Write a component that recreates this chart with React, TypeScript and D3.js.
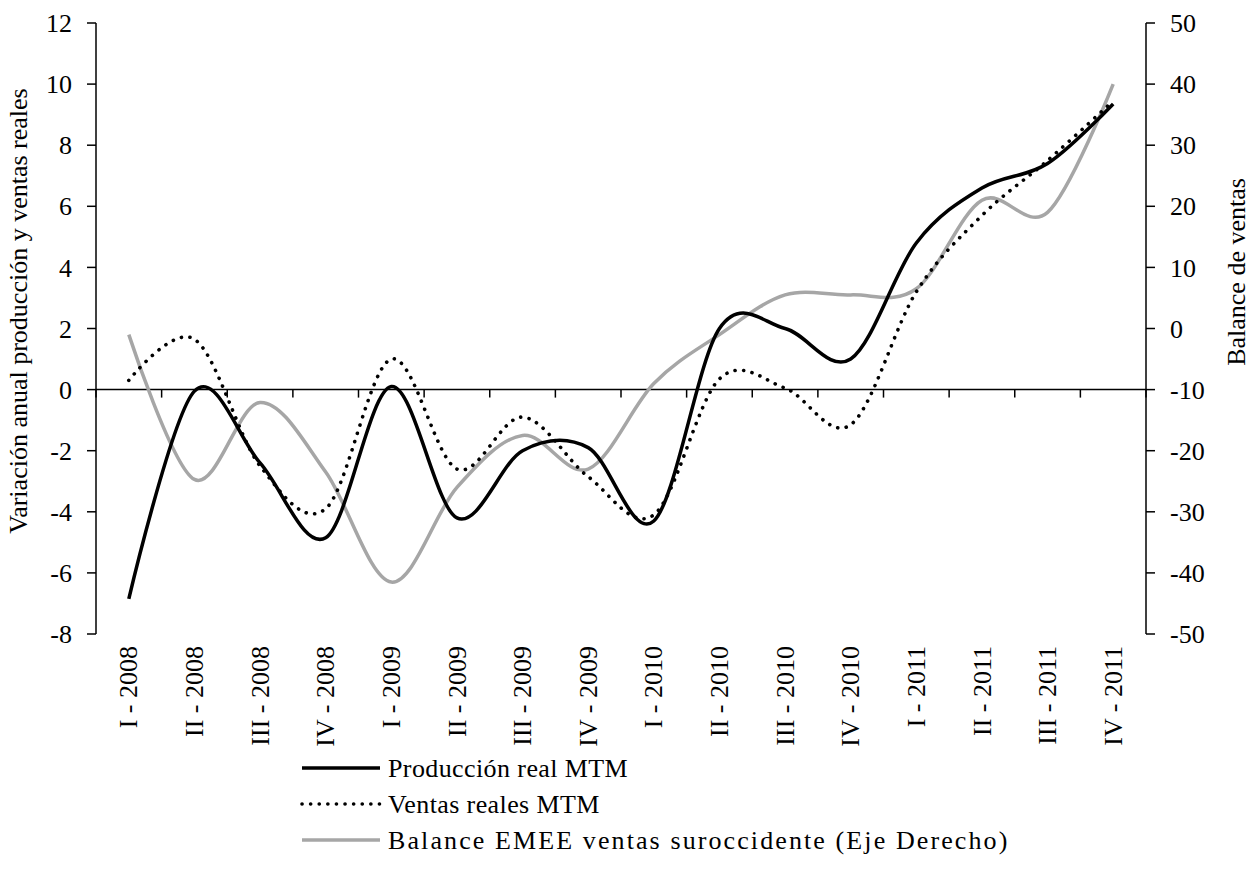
import * as d3 from "d3"

const categories = [
  "I - 2008", "II - 2008", "III - 2008", "IV - 2008",
  "I - 2009", "II - 2009", "III - 2009", "IV - 2009",
  "I - 2010", "II - 2010", "III - 2010", "IV - 2010",
  "I - 2011", "II - 2011", "III - 2011", "IV - 2011",
]
const produccion = [-6.85, -0.05, -2.4, -4.85, 0.1, -4.2, -2.0, -1.9, -4.3, 2.0, 2.0, 1.0, 4.8, 6.6, 7.4, 9.35]
const ventas = [0.3, 1.65, -2.5, -3.9, 1.0, -2.6, -0.9, -2.85, -4.1, 0.35, 0.05, -1.15, 3.2, 5.7, 7.5, 9.45]
const balance = [-1, -24.7, -12.1, -23.5, -41.5, -26, -17.5, -23, -9, -1, 5.5, 5.5, 6.5, 21, 19, 40]
const leftTicks = [12, 10, 8, 6, 4, 2, 0, -2, -4, -6, -8]
const rightTicks = [50, 40, 30, 20, 10, 0, -10, -20, -30, -40, -50]

const W = 1260
const H = 881
const FONT = "'Liberation Serif', 'Times New Roman', serif"
const FS = 26

export default function App() {
  const x0 = 96
  const x1 = 1146
  const top = 23
  const bottom = 634

  const x = d3.scaleBand<string>().domain(categories).range([x0, x1])
  const cx = (i: number) => (x(categories[i]) as number) + x.bandwidth() / 2
  const yL = d3.scaleLinear().domain([-8, 12]).range([bottom, top])
  const yR = d3.scaleLinear().domain([-50, 50]).range([bottom, top])

  const curve = d3.curveCardinal.tension(0)
  const lineL = d3.line<number>().x((_, i) => cx(i)).y((d) => yL(d)).curve(curve)
  const lineR = d3.line<number>().x((_, i) => cx(i)).y((d) => yR(d)).curve(curve)

  const zeroY = yL(0)
  const boundaries = categories.map((c) => x(c) as number).concat([x1])

  const legend = [
    { label: "Producción real MTM", stroke: "#000", dash: undefined as string | undefined, cap: "butt", ls: 0.4 },
    { label: "Ventas reales MTM", stroke: "#000", dash: "0.1 8.5", cap: "round", ls: 0.4 },
    { label: "Balance EMEE ventas suroccidente (Eje Derecho)", stroke: "#a6a6a6", dash: undefined, cap: "butt", ls: 2.1 },
  ]
  const legendY = [768, 804, 840]

  return (
    <svg
      width={W}
      height={H}
      style={{ position: "absolute", left: 0, top: 0, background: "#fff" }}
      fontFamily={FONT}
      fontSize={FS}
    >
      <rect width={W} height={H} fill="#fff" />

      {/* left axis */}
      <line x1={x0} x2={x0} y1={top} y2={bottom} stroke="#000" strokeWidth={1.5} />
      {leftTicks.map((t) => (
        <g key={"l" + t}>
          <line x1={x0 - 9} x2={x0} y1={yL(t)} y2={yL(t)} stroke="#000" strokeWidth={1.5} />
          <text x={x0 - 24} y={yL(t)} dy="0.35em" textAnchor="end">
            {t}
          </text>
        </g>
      ))}

      {/* right axis */}
      <line x1={x1} x2={x1} y1={top} y2={bottom} stroke="#000" strokeWidth={1.5} />
      {rightTicks.map((t) => (
        <g key={"r" + t}>
          <line x1={x1} x2={x1 + 9} y1={yR(t)} y2={yR(t)} stroke="#000" strokeWidth={1.5} />
          <text x={x1 + 24} y={yR(t)} dy="0.35em" textAnchor="start">
            {t}
          </text>
        </g>
      ))}

      {/* category axis at zero */}
      <line x1={x0} x2={x1} y1={zeroY} y2={zeroY} stroke="#000" strokeWidth={1.5} />
      {boundaries.map((b, i) => (
        <line key={"b" + i} x1={b} x2={b} y1={zeroY} y2={zeroY + 8} stroke="#000" strokeWidth={1.5} />
      ))}
      {categories.map((c, i) => (
        <text
          key={c}
          transform={`translate(${cx(i)},646) rotate(-90)`}
          dy="0.33em"
          textAnchor="end"
        >
          {c}
        </text>
      ))}

      {/* axis titles */}
      <text transform={`translate(27,311) rotate(-90)`} textAnchor="middle">
        Variación anual producción y ventas reales
      </text>
      <text transform={`translate(1245,272) rotate(-90)`} textAnchor="middle">
        Balance de ventas
      </text>

      {/* series */}
      <path d={lineR(balance) ?? ""} fill="none" stroke="#a6a6a6" strokeWidth={3.5} />
      <path d={lineL(produccion) ?? ""} fill="none" stroke="#000" strokeWidth={3.5} />
      <path
        d={lineL(ventas) ?? ""}
        fill="none"
        stroke="#000"
        strokeWidth={3.6}
        strokeDasharray="0.1 8.5"
        strokeLinecap="round"
      />

      {/* legend */}
      {legend.map((l, i) => (
        <g key={l.label}>
          <line
            x1={302}
            x2={380}
            y1={legendY[i]}
            y2={legendY[i]}
            stroke={l.stroke}
            strokeWidth={3.6}
            strokeDasharray={l.dash}
            strokeLinecap={l.cap as any}
          />
          <text x={388} y={legendY[i]} dy="0.33em" letterSpacing={l.ls}>
            {l.label}
          </text>
        </g>
      ))}
    </svg>
  )
}
